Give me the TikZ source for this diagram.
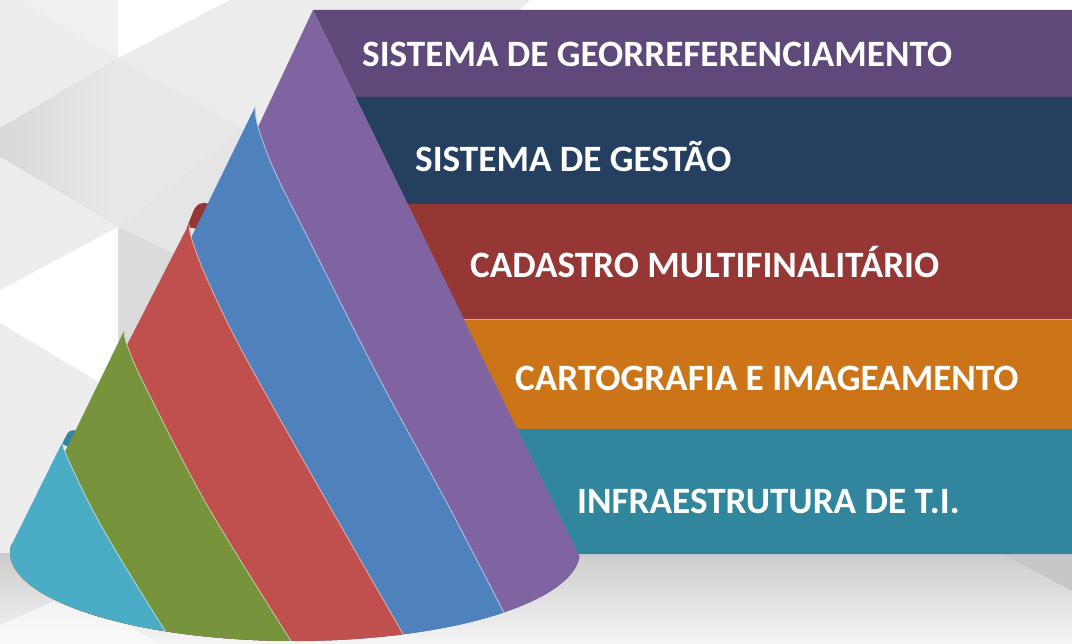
\documentclass[tikz,border=0pt]{standalone}
\usepackage{fontspec}
\setmainfont{Carlito}
\definecolor{purpleband}{HTML}{5F497A}
\definecolor{navyband}{HTML}{243F60}
\definecolor{redband}{HTML}{953735}
\definecolor{orangeband}{HTML}{CC7418}
\definecolor{tealband}{HTML}{31859C}
\definecolor{purplecone}{HTML}{8064A2}
\definecolor{bluecone}{HTML}{4F81BD}
\definecolor{redcone}{HTML}{C0504D}
\definecolor{greencone}{HTML}{77933C}
\definecolor{cyancone}{HTML}{4BACC6}
\definecolor{redcurl}{HTML}{943634}
\definecolor{cyancurl}{HTML}{31859C}
\tikzset{
  lbl/.style={text=white, font=\fontsize{37.2}{41}\selectfont\bfseries, inner sep=0pt, anchor=base west},
  hl/.style={line width=0.8pt, line cap=round},
}
\begin{document}
\begin{tikzpicture}[x=1pt,y=-1pt,line join=round]
\useasboundingbox (0,0) rectangle (1072,644);
\fill[white] (0,0) rectangle (1072,644);
% ---------- background facets ----------
\fill[black!7] (0,0) -- (20,0) -- (118,58) -- (0,128) -- cycle;
\fill[black!6] (20,0) -- (118,0) -- (118,58) -- cycle;
\shade[left color=black!15, right color=black!9] (0,128) -- (118,58) -- (118,227) -- (0,157) -- cycle;
\fill[black!7] (0,157) -- (118,227) -- (0,290) -- cycle;
\fill[black!9] (118,58) -- (243,128) -- (118,227) -- cycle;
\fill[black!7.5] (118,58) -- (230,0) -- (530,0) -- (330,200) -- (243,128) -- cycle;
\fill[black!10] (118,227) -- (243,128) -- (330,200) -- (250,290) -- cycle;
\fill[black!14] (118,227) -- (250,290) -- (250,420) -- (118,345) -- cycle;
\fill[black!7] (0,323) -- (100,383) -- (100,600) -- (63,597) -- (0,625) -- cycle;
% floor
\shade[top color=black!20, bottom color=black!4] (0,553) rectangle (1072,644);
\fill[white, opacity=0.6] (0,625) -- (70,594) -- (160,644) -- (0,644) -- cycle;
\fill[black!22] (1003,554) -- (1072,554) -- (1072,591) -- cycle;
% ---------- bands ----------
\fill[purpleband] (313,10) -- (1072,10) -- (1072,97) -- (355.4,97) -- cycle;
\fill[navyband] (355.4,97) -- (1072,97) -- (1072,204) -- (407.5,204) -- cycle;
\fill[redband] (407.5,204) -- (1072,204) -- (1072,319.5) -- (463.8,319.5) -- cycle;
\fill[orangeband] (463.8,319.5) -- (1072,319.5) -- (1072,429) -- (517.1,429) -- cycle;
\fill[tealband] (517.1,429) -- (1072,429) -- (1072,554) -- (578,554) -- cycle;
\draw[orangeband!60!white, line width=0.8pt] (463.8,319.5) -- (1072,319.5);
% ---------- cone ----------
\coordinate (apex) at (313,10);
\coordinate (s1) at (258,127);
\coordinate (s2) at (191,238);
\coordinate (s3) at (127,345);
\coordinate (s4) at (65,452);
\coordinate (s5) at (11,546);
\coordinate (tb) at (255,107);
\coordinate (tr) at (189,224);
\coordinate (tg) at (124,331);
\coordinate (tc) at (63,441);
% purple
\fill[purplecone] (apex) -- (s1) -- (s2) -- (s3) -- (s4) -- (s5)
  -- plot[domain=180:3, samples=80, variable=\t] ({295+285*cos(\t)}, {552+89*sin(\t)}) -- cycle;
% red curl (behind blue)
\fill[redcurl] (187,227) -- (193,212) .. controls (196,204) and (203,200) .. (210,205) -- (214,232) -- cycle;
% blue
\fill[bluecone] (tb) -- (s2) -- (s3) -- (s4) -- (s5)
  -- plot[domain=180:42.9, samples=60, variable=\t] ({295+285*cos(\t)}, {552+89*sin(\t)})
  -- plot[smooth, tension=0.55] coordinates {(503.9,612.6) (448,505) (379,378) (310,242) (275,172) (258,127) (tb)} -- cycle;
\draw[hl, draw=bluecone!45!white] plot[smooth, tension=0.55] coordinates {(tb) (258,127) (275,172) (310,242) (379,378) (448,505) (503.9,612.6)};
% red
\fill[redcone] (tr) -- (s3) -- (s4) -- (s5)
  -- plot[domain=180:67.7, samples=60, variable=\t] ({295+285*cos(\t)}, {552+89*sin(\t)})
  -- plot[smooth, tension=0.55] coordinates {(403.2,634.3) (310,472) (241,349) (207,279) (192,240) (tr)} -- cycle;
\draw[hl, draw=redcone!45!white] plot[smooth, tension=0.55] coordinates {(tr) (192,240) (207,279) (241,349) (310,472) (403.2,634.3)};
% cyan curl (behind green)
\fill[cyancurl] (62,444) -- (66,436) .. controls (68,431) and (72,429) .. (77,431) -- (80,452) -- cycle;
% green
\fill[greencone] (tg) -- (s4) -- (s5)
  -- plot[domain=180:90.8, samples=50, variable=\t] ({295+285*cos(\t)}, {552+89*sin(\t)})
  -- plot[smooth, tension=0.55] coordinates {(291,641) (207,505) (145,386) (127,345) (tg)} -- cycle;
\draw[hl, draw=greencone!45!white] plot[smooth, tension=0.55] coordinates {(tg) (127,345) (145,386) (207,505) (291,641)};
% cyan
\fill[cyancone] (tc) -- (s5)
  -- plot[domain=180:117.1, samples=40, variable=\t] ({295+285*cos(\t)}, {552+89*sin(\t)})
  -- plot[smooth, tension=0.55] coordinates {(165.3,631.2) (120,558) (90,505) (65,452) (tc)} -- cycle;
\draw[hl, draw=cyancone!45!white] plot[smooth, tension=0.55] coordinates {(tc) (65,452) (90,505) (120,558) (165.3,631.2)};
% ---------- labels ----------
\node[lbl] (t1) at (362,67) {SISTEMA DE GEORREFERENCIAMENTO};
\node[lbl] (t2) at (415,172) {SISTEMA DE GESTÃO};
\node[lbl] (t3) at (470,278) {CADASTRO MULTIFINALITÁRIO};
\node[lbl] (t4) at (515,391) {CARTOGRAFIA E IMAGEAMENTO};
\node[lbl] (t5) at (577,513) {INFRAESTRUTURA DE T.I.};
\end{tikzpicture}
\end{document}
